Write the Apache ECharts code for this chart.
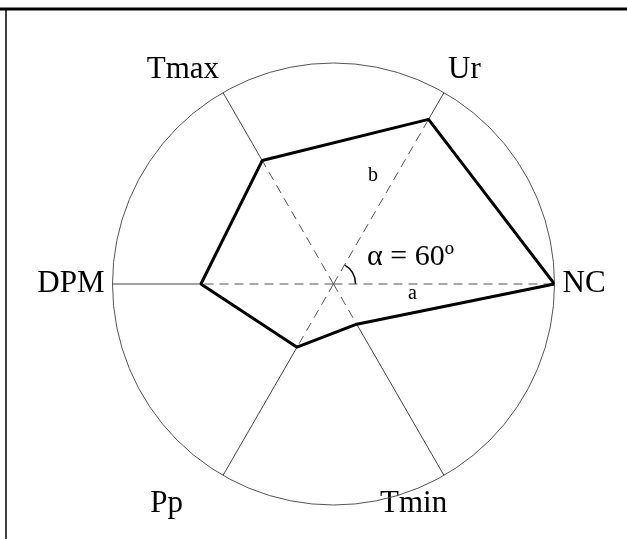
<!DOCTYPE html>
<html>
<head>
<meta charset="utf-8">
<script src="https://cdn.jsdelivr.net/npm/echarts@6/dist/echarts.min.js"></script>
<style>
  html, body { margin: 0; padding: 0; background: #fff; }
  #chart { width: 627px; height: 539px; }
</style>
</head>
<body>
<div id="chart"></div>
<script>
// axes, counter-clockwise from the right
const axisNames = ['NC', 'Ur', 'Tmax', 'DPM', 'Pp', 'Tmin'];
const axisAngles = [0, 60, 120, 180, 240, 300];
// normalised values (outer circle = 1)
const values = [1.0, 0.86, 0.645, 0.60, 0.33, 0.21];

const cx = 333.5, cy = 284;

const chart = echarts.init(document.getElementById('chart'));

// dashed part of each spoke: centre -> value
const dashedSpokes = axisAngles.map((a, i) => ({
  type: 'line',
  coordinateSystem: 'polar',
  polarIndex: 0,
  symbol: 'none',
  silent: true,
  z: 2,
  lineStyle: { color: '#555', width: 1, type: [9, 6] },
  data: [[0, a], [values[i], a]]
}));

// solid part of each spoke: value -> circle
const solidSpokes = axisAngles.map((a, i) => ({
  type: 'line',
  coordinateSystem: 'polar',
  polarIndex: 0,
  symbol: 'none',
  silent: true,
  z: 2,
  lineStyle: { color: '#444', width: 1 },
  data: [[values[i], a], [1, a]]
}));

const polygon = values.map((v, i) => [v, axisAngles[i]]);
polygon.push([values[0], 360]);

const labelFont = { fontFamily: 'Liberation Serif', fontSize: 31, color: '#000' };
const hiddenRadius = {
  min: 0, max: 1,
  axisLine: { show: false }, axisTick: { show: false },
  axisLabel: { show: false }, splitLine: { show: false }
};

const option = {
  backgroundColor: '#fff',
  animation: false,
  polar: [
    { center: [cx, cy], radius: 221 },
    { center: [cx, cy], radius: 221 }
  ],
  radiusAxis: [
    Object.assign({ polarIndex: 0 }, hiddenRadius),
    Object.assign({ polarIndex: 1 }, hiddenRadius)
  ],
  angleAxis: [
    {
      // the outer circle
      polarIndex: 0,
      type: 'value',
      min: 0, max: 360, interval: 60,
      startAngle: 0,
      clockwise: false,
      axisLine: { lineStyle: { color: '#555', width: 1 } },
      axisTick: { show: false },
      splitLine: { show: false },
      axisLabel: { show: false }
    },
    {
      // the axis names
      polarIndex: 1,
      type: 'category',
      data: axisNames.map(name => {
        if (name === 'Pp') return { value: name, textStyle: { padding: [6, 36, 0, 0] } };
        if (name === 'Tmin') return { value: name, textStyle: { padding: [6, 0, 0, -68] } };
        return name;
      }),
      boundaryGap: false,
      startAngle: 0,
      clockwise: false,
      axisLine: { show: false },
      axisTick: { show: false },
      splitLine: { show: false },
      axisLabel: Object.assign({ margin: 8 }, labelFont)
    }
  ],
  series: [
    ...dashedSpokes,
    ...solidSpokes,
    {
      type: 'line',
      coordinateSystem: 'polar',
      polarIndex: 0,
      symbol: 'none',
      silent: true,
      z: 5,
      lineStyle: { color: '#000', width: 3 },
      data: polygon
    }
  ],
  graphic: [
    // frame
    { type: 'line', shape: { x1: 0, y1: 9, x2: 627, y2: 9 }, style: { stroke: '#000', lineWidth: 3 } },
    { type: 'line', shape: { x1: 6, y1: 9, x2: 6, y2: 539 }, style: { stroke: '#000', lineWidth: 1.5 } },
    // angle annotation
    { type: 'arc', shape: { cx: cx, cy: cy, r: 22, startAngle: -Math.PI / 3, endAngle: 0 },
      style: { stroke: '#000', fill: null, lineWidth: 1.5 } },
    { type: 'text', left: 367, top: 242,
      style: { text: 'α = 60º', font: '30px "Liberation Serif"', fill: '#000' } },
    { type: 'text', left: 408, top: 284,
      style: { text: 'a', font: '20px "Liberation Serif"', fill: '#000' } },
    { type: 'text', left: 368, top: 166,
      style: { text: 'b', font: '20px "Liberation Serif"', fill: '#000' } }
  ]
};

chart.setOption(option);
</script>
</body>
</html>
